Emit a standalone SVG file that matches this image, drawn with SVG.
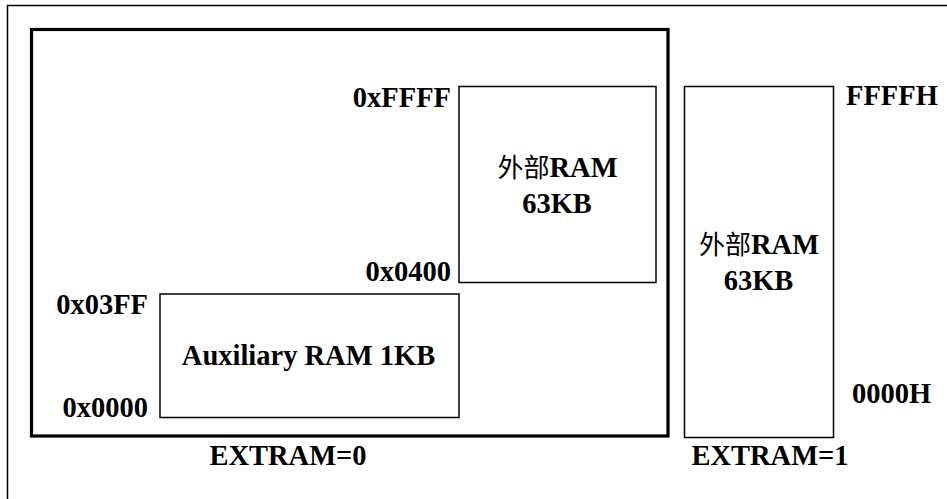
<svg xmlns="http://www.w3.org/2000/svg" width="947" height="499" viewBox="0 0 947 499">
<style>
text{font-family:"Liberation Serif","Times New Roman","Noto Sans CJK SC",serif;font-weight:bold;font-size:28.5px;fill:#000}
.cjk{font-family:"Noto Sans CJK SC",sans-serif;font-weight:normal;font-size:26px}
.thin{fill:#fff;stroke:#000;stroke-width:1.5}
.c{text-anchor:middle}
.e{text-anchor:end}
</style>
<rect width="947" height="499" fill="#fff"/>
<rect x="7.5" y="5.5" width="960" height="520" fill="none" stroke="#000" stroke-width="1.5"/>
<g id="extram0">
<rect x="31.5" y="29.5" width="636.5" height="406.5" fill="none" stroke="#000" stroke-width="3.2"/>
<text class="c" x="288" y="465">EXTRAM=0</text>
</g>
<g id="ext-ram-0">
<rect class="thin" x="459" y="86.5" width="197" height="196"/>
<text class="c" x="557.5" y="177"><tspan class="cjk">外部</tspan>RAM</text>
<text class="c" x="557" y="212.5">63KB</text>
<text class="e" x="451" y="107">0xFFFF</text>
<text class="e" x="451" y="280.5">0x0400</text>
</g>
<g id="aux-ram">
<rect class="thin" x="160" y="294" width="299" height="123.5"/>
<text class="c" x="308.5" y="365">Auxiliary RAM 1KB</text>
<text class="e" x="148" y="314">0x03FF</text>
<text class="e" x="148" y="416.5">0x0000</text>
</g>
<g id="ext-ram-1">
<rect class="thin" x="684.5" y="86.5" width="149" height="351"/>
<text class="c" x="759" y="254"><tspan class="cjk">外部</tspan>RAM</text>
<text class="c" x="758.5" y="290">63KB</text>
<text x="846" y="105">FFFFH</text>
<text x="852" y="403">0000H</text>
<text class="c" x="770" y="465">EXTRAM=1</text>
</g>
<g id="connectors"></g>
</svg>
